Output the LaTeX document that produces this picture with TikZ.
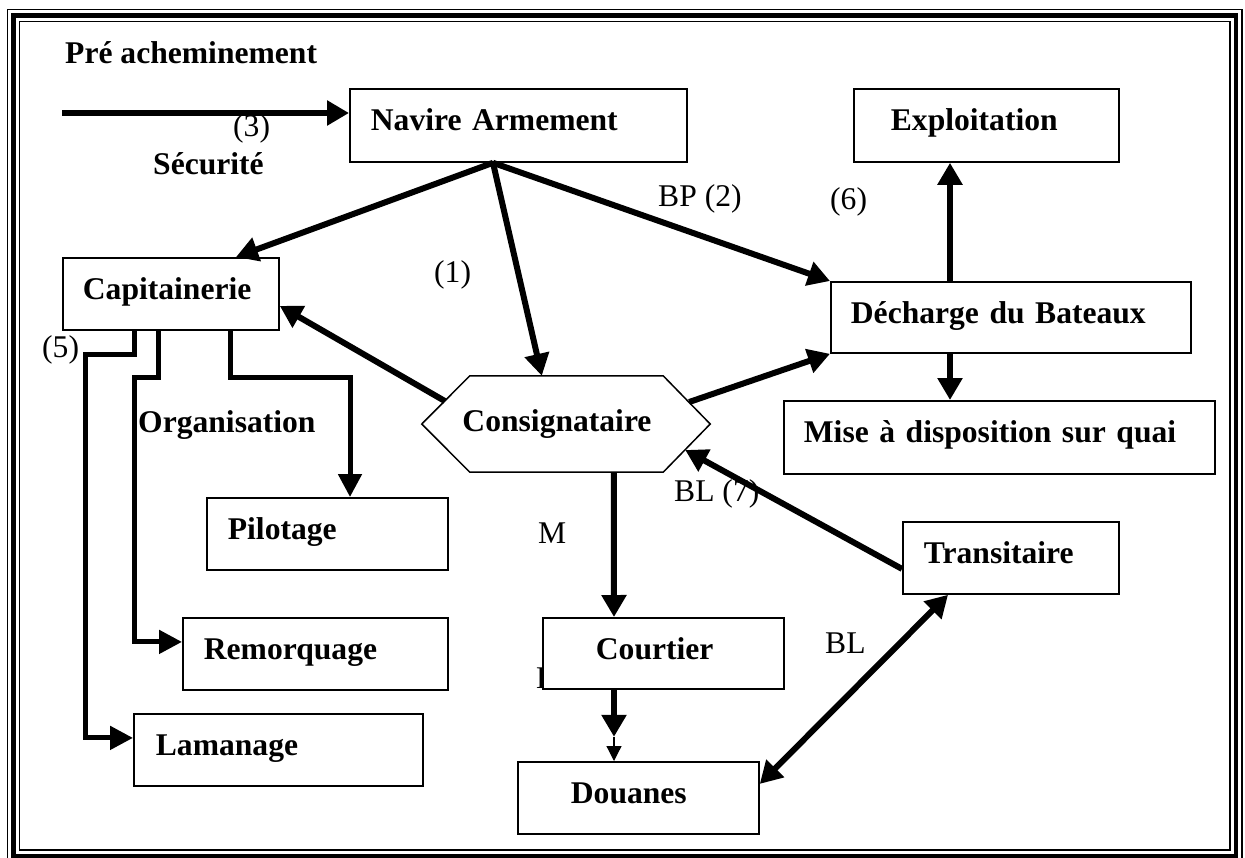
\documentclass[tikz,border=0pt]{standalone}
\usepackage{fontspec}
\setmainfont{Liberation Serif}
\usetikzlibrary{arrows.meta,calc}
\begin{document}
\begin{tikzpicture}[x=1pt,y=-1pt,
  every node/.style={font=\fontsize{31.6}{38}\selectfont},
  box/.style={draw, line width=1.8pt, fill=white, anchor=north west, inner sep=0pt,
    align=left, text height=42pt, font=\fontsize{31.6}{38}\selectfont\bfseries},
  lbl/.style={anchor=base west, inner sep=0pt},
  blbl/.style={anchor=base west, inner sep=0pt, font=\fontsize{31.6}{38}\selectfont\bfseries},
  conn/.style={line width=6pt, -{Triangle[length=22pt,width=24pt]}},
  orth/.style={line width=5pt, line join=miter, -{Triangle[length=23pt,width=23pt]}},
  thinconn/.style={line width=1.2pt, -{Triangle[length=15pt,width=15pt]}},
  dbl/.style={line width=6pt, {Triangle[length=22pt,width=24pt]}-{Triangle[length=22pt,width=24pt]}}
]
\useasboundingbox (0,0) rectangle (1245,857);
% frame
\draw[line width=1.5pt] (7.5,9.5) rectangle (1242,862);
\draw[line width=4.5pt] (13.5,15.5) rectangle (1236,856);
\draw[line width=1.5pt] (19.5,21.5) rectangle (1230,850);

% free labels
\node[blbl] (pre) at (65,63) {Pré acheminement};
\node[lbl] (l3) at (233,136) {(3)};
\node[blbl] (sec) at (153,174) {Sécurité};
\node[lbl] (l1) at (434,282) {(1)};
\node[lbl] (l2) at (658,206) {BP (2)};
\node[lbl] (l6) at (830,209) {(6)};
\node[lbl] (l5) at (42,357) {(5)};
\node[blbl] (org) at (138,432) {Organisation};
\node[lbl] (lm) at (538,543) {M};
\node[lbl] (l7) at (674,501) {BL (7)};
\node[lbl] (l8) at (825,653) {BL};
\node[lbl] (hid) at (536,688) {D};

% boxes
\node[box, minimum width=337pt, minimum height=73pt, text width=337pt, text depth=31pt] (nav) at (349,88) {\hspace*{21pt}Navire Armement};
\node[box, minimum width=265pt, minimum height=73pt, text width=265pt, text depth=31pt] (expl) at (853,88) {\hspace*{37pt}Exploitation};
\node[box, minimum width=216pt, minimum height=72pt, text width=216pt, text depth=30pt] (cap) at (62,257) {\hspace*{20pt}Capitainerie};
\node[box, minimum width=360pt, minimum height=71pt, text width=360pt, text depth=29pt] (dech) at (830,281) {\hspace*{20pt}Décharge du Bateaux};
\node[box, minimum width=431pt, minimum height=73pt, text width=431pt, text depth=31pt] (mise) at (783,400) {\hspace*{20pt}Mise à disposition sur quai};
\node[box, minimum width=241pt, minimum height=72pt, text width=241pt, text depth=30pt] (pil) at (206,497) {\hspace*{21pt}Pilotage};
\node[box, minimum width=216pt, minimum height=72pt, text width=216pt, text depth=30pt] (trans) at (902,521) {\hspace*{21pt}Transitaire};
\node[box, minimum width=265pt, minimum height=72pt, text width=265pt, text depth=30pt] (rem) at (182,617) {\hspace*{21pt}Remorquage};
\node[box, minimum width=241pt, minimum height=71pt, text width=241pt, text depth=29pt] (court) at (542,617) {\hspace*{53pt}Courtier};
\node[box, minimum width=289pt, minimum height=72pt, text width=289pt, text depth=30pt] (lam) at (133,713) {\hspace*{22pt}Lamanage};
\node[box, minimum width=241pt, minimum height=72pt, text width=241pt, text depth=30pt] (doua) at (517,761) {\hspace*{53pt}Douanes};

% hexagon
\node[inner sep=0pt, minimum width=288pt, minimum height=96pt, font=\fontsize{31.6}{38}\selectfont\bfseries] (cons) at (566,424) {Consignataire\hspace*{18pt}};
\draw[line width=1.5pt, line join=miter] (cons.west) -- ($(cons.north west)+(48,0)$) -- ($(cons.north east)+(-47,0)$) -- (cons.east) -- ($(cons.south east)+(-47,0)$) -- ($(cons.south west)+(48,0)$) -- cycle;

% connectors
\coordinate (prestart) at (62,113);
\draw[conn] (prestart) -- (prestart -| nav.west);
\coordinate (apex) at ($(nav.south west)+(144,0)$);
\draw[conn] (apex) -- ($(cap.north west)+(174,0)$);
\draw[conn] (apex) -- ($(cons.north west)+(120,0)$);
\draw[conn] (apex) -- (dech.north west);
\draw[conn] ($(cons.west)+(23,-23)$) -- ($(cap.east)+(0,12)$);
\draw[conn] ($(cons.east)+(-21,-22)$) -- (dech.south west);
\draw[conn] ($(dech.north west)+(120,0)$) -- ($(expl.south west)+(97,0)$);
\draw[conn] ($(dech.south west)+(120,0)$) -- ($(mise.north west)+(167,0)$);
\draw[conn] ($(cons.south west)+(192,0)$) -- ($(court.north west)+(72,0)$);
\coordinate (cmid) at ($(court.south west)+(72,47)$);
\draw[conn] ($(court.south west)+(72,0)$) -- (cmid);
\draw[thinconn] (cmid) -- ($(doua.north west)+(97,0)$);
\draw[conn] ($(trans.west)+(0,11)$) -- ($(cons.east)+(-25,26)$);
\draw[dbl] ($(doua.east)+(0,-14)$) -- ($(trans.south west)+(46,0)$);

% capitainerie branches
\draw[orth] ($(cap.south west)+(72,0)$) -- ++(0,24) -- ++(-49,0) |- ($(lam.west)+(0,-12)$);
\draw[orth] ($(cap.south west)+(96,0)$) -- ++(0,47) -- ++(-24,0) |- ($(rem.west)+(0,-12)$);
\draw[orth] ($(cap.south west)+(168,0)$) -- ++(0,47) -| ($(pil.north west)+(144,0)$);
\end{tikzpicture}
\end{document}
